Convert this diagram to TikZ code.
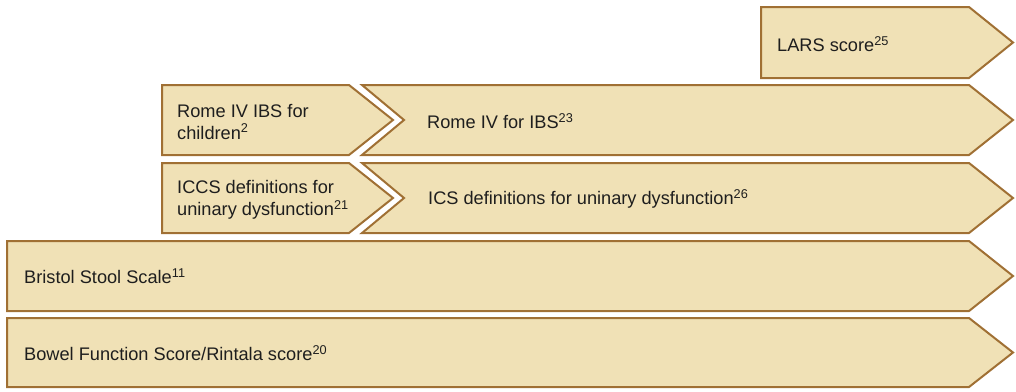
\documentclass[tikz,border=0pt]{standalone}
\usepackage{fontspec}
\setmainfont{Liberation Sans}
\definecolor{barfill}{RGB}{240,225,182}
\definecolor{barline}{RGB}{160,112,52}
\definecolor{bartext}{RGB}{30,30,30}
\tikzset{
  bar/.style={draw=barline, fill=barfill, line width=2pt, line join=miter},
  label/.style={anchor=west, align=left, inner sep=0pt, text=bartext,
    font=\fontsize{18.2}{21.5}\selectfont}
}
\begin{document}
\begin{tikzpicture}[x=1pt, y=-1pt]
        \useasboundingbox (0,0) rectangle (1016,391);

        % top row
        \draw[bar] (761,7) -- (969,7) -- (1013,42.5) -- (969,78) -- (761,78) -- cycle;
        \node[label] (lars) at (777,44) {LARS score\textsuperscript{25}};

        % Rome IV
        \draw[bar] (362,85) -- (969,85) -- (1013,120) -- (969,155) -- (362,155) -- (404,120) -- cycle;
        \draw[bar] (162,85) -- (349,85) -- (393,120) -- (349,155) -- (162,155) -- cycle;
        \node[label] (romekids) at (177,122) {Rome IV IBS for\\children\textsuperscript{2}};
        \node[label] (romeibs) at (427,121) {Rome IV for IBS\textsuperscript{23}};

        % ICCS / ICS
        \draw[bar] (362,163) -- (969,163) -- (1013,198) -- (969,233) -- (362,233) -- (404,198) -- cycle;
        \draw[bar] (162,163) -- (349,163) -- (393,198) -- (349,233) -- (162,233) -- cycle;
        \node[label] (iccs) at (177,200) {ICCS definitions for\\uninary dysfunction\textsuperscript{21}};
        \node[label] (ics) at (428,199) {ICS definitions for uninary dysfunction\textsuperscript{26}};

        % full width
        \draw[bar] (7,241) -- (969,241) -- (1013,276) -- (969,311) -- (7,311) -- cycle;
        \node[label] (bristol) at (24,276) {Bristol Stool Scale\textsuperscript{11}};

        \draw[bar] (7,318) -- (969,318) -- (1013,352.5) -- (969,387) -- (7,387) -- cycle;
        \node[label] (bowel) at (24,353) {Bowel Function Score/Rintala score\textsuperscript{20}};
    \end{tikzpicture}
\end{document}
